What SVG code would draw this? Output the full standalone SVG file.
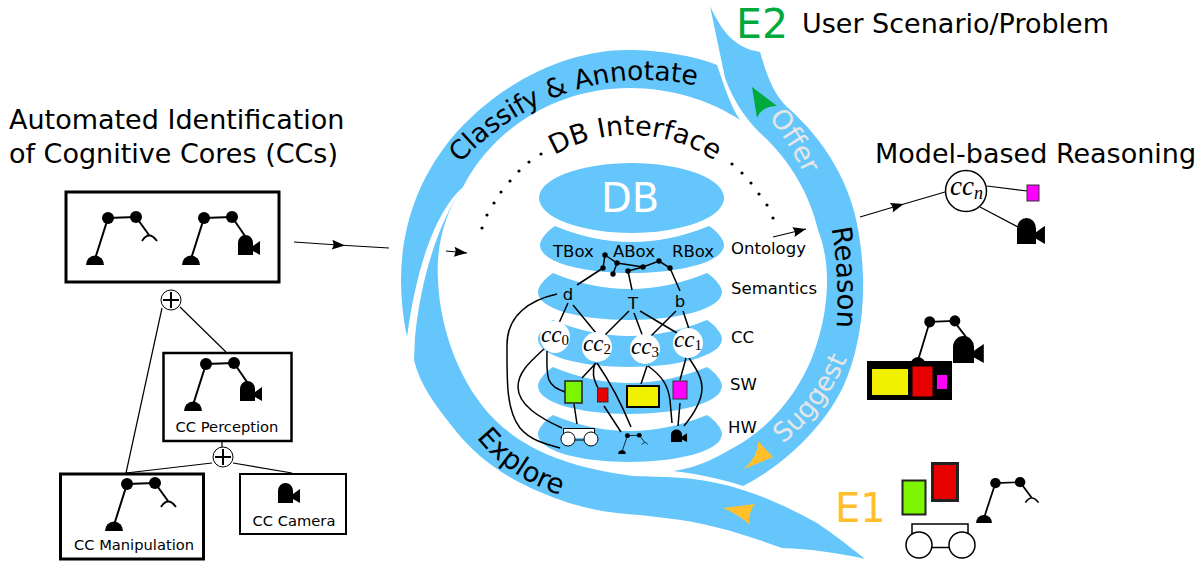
<svg xmlns="http://www.w3.org/2000/svg" xmlns:xlink="http://www.w3.org/1999/xlink" width="1202" height="563" viewBox="0 0 1202 563">
<style>
text{font-family:"DejaVu Sans",sans-serif;fill:#000}
.b{fill:#64c6fb}
.big{font-size:27px}
.lay{font-size:16.500px}
.cap{font-size:14.700px;text-anchor:middle}
.m{font-family:"Liberation Serif",serif;font-style:italic;font-size:23px}
.s{font-style:normal;font-size:15px}
.l{fill:none;stroke:#000;stroke-width:1.5}
.t{fill:none;stroke:#000;stroke-width:1.2}
.box{fill:#fff;stroke:#000}
.w{fill:#fff}
</style>
<defs>
<marker id="h" markerUnits="userSpaceOnUse" markerWidth="20" markerHeight="14" refX="0" refY="0" viewBox="-10 -7 20 14" orient="auto"><path d="M7,0 L-6,5 Q-3,0 -6,-5 Z" fill="#000"/></marker>
<marker id="e" markerUnits="userSpaceOnUse" markerWidth="20" markerHeight="14" refX="0" refY="0" viewBox="-14 -7 20 14" orient="auto"><path d="M0,0 L-13,5 Q-10,0 -13,-5 Z" fill="#000"/></marker>
<g id="armBase"><path d="M-9,0 A9,9.500 0 0 1 9,0 Z"/><path d="M0,-6 L13,-47 L41,-48" fill="none" stroke="#000" stroke-width="2"/><circle cx="13" cy="-47" r="6"/><circle cx="41" cy="-48" r="6"/></g>
<g id="armGrip"><use xlink:href="#armBase" href="#armBase"/><path d="M41,-48 L54,-30" fill="none" stroke="#000" stroke-width="2"/><path d="M47,-24 Q54,-35 62,-24" fill="none" stroke="#000" stroke-width="1.800"/></g>
<g id="cam"><path d="M0,0 V-12 A7.500,8 0 0 1 15,-12 V0 Z M15,-4 L22,0 V-14 L15,-9 Z"/></g>
<path id="pClass" d="M445,182 C490,120 570,80 640,80 C665,80 690,82 720,92"/>
<path id="pDb" d="M500,210 A150,150 0 0 1 760,210"/>
<path id="pReason" d="M831,226 Q841,280 836,336"/>
<path id="pOffer" d="M767,116 Q792,145 810,188"/>
<path id="pSuggest" d="M781,445 Q826,410 850,352"/>
<path id="pExplore" d="M475,436 Q510,480 564,496"/>
</defs>

<g id="ribbons">
<path class="b" d="M407,337 C393,270 402,200 450,140 C500,80 570,50 627,50 C660,50 695,56 717,65 C724,85 730,105 740,120 C710,100 670,88 630,88 C560,88 495,125 463,187 C440,207 418,255 407,337 Z"/>
<path class="b" d="M463,187 C443,215 436,250 438,280 C440,330 460,385 495,420 C525,450 570,468 633,476 C665,477 680,477 700,480 C740,486 775,500 817,523 C835,535 850,547 865,559 C840,553 810,549 782,548 C760,540 740,533 715,527 C685,519 650,516 617,513 C590,510 565,503 540,492 C500,475 475,455 455,430 C435,405 420,385 414,360 L415,337 C421,275 440,220 463,187 Z"/>
<path class="b" d="M710,6 C722,32 735,48 760,52 C768,80 775,95 787,107 C825,140 852,185 859,235 C868,290 862,345 843,387 C825,425 785,465 743,486 C725,480 700,474 673,471 C700,467 715,458 733,448 C775,425 805,385 818,340 C830,300 830,260 818,230 C810,195 790,160 760,133 C745,118 733,100 725,78 Z"/>
</g>
<g id="arrowheads-color">
<path d="M752,87 L777,106 Q762,106 757,118 Z" fill="#00a93c"/>
<path d="M758,441 L773,457 L744,469 Q759,455 758,441 Z" fill="#ffc02b"/>
<path d="M723,508 L755,504 Q747,514 750,525 Q738,514 723,508 Z" fill="#ffc02b"/>
</g>

<g id="db">
<ellipse class="b" cx="631.500" cy="198" rx="92.500" ry="35"/>
<text x="630" y="212" font-size="40" text-anchor="middle" style="fill:#fff">DB</text>
</g>
<g id="layers">
<path id="ontology" class="b" d="M555,226 Q631,258 709,226 C718,232 724,240 724,245 C724,262 680,273 631,273 C582,273 540,262 540,245 C540,240 546,232 555,226 Z"/>
<path id="semantics" class="b" transform="translate(-2,47)" d="M555,226 Q631,258 709,226 C718,232 724,240 724,245 C724,262 680,273 631,273 C582,273 540,262 540,245 C540,240 546,232 555,226 Z"/>
<path id="cc" class="b" transform="translate(-2,94)" d="M555,226 Q631,258 709,226 C718,232 724,240 724,245 C724,262 680,273 631,273 C582,273 540,262 540,245 C540,240 546,232 555,226 Z"/>
<path id="sw" class="b" transform="translate(-2,141)" d="M555,226 Q631,258 709,226 C718,232 724,240 724,245 C724,262 680,273 631,273 C582,273 540,262 540,245 C540,240 546,232 555,226 Z"/>
<path id="hw" class="b" transform="translate(-2,189)" d="M555,226 Q631,258 709,226 C718,232 724,240 724,245 C724,262 680,273 631,273 C582,273 540,262 540,245 C540,240 546,232 555,226 Z"/>
</g>

<g id="ribbon-labels">
<text style="font-size:26.500px"><textPath href="#pClass" xlink:href="#pClass" startOffset="24">Classify &amp; Annotate</textPath></text>
<text style="font-size:27px"><textPath href="#pDb" xlink:href="#pDb" startOffset="78">DB Interface</textPath></text>
<text style="font-size:27.500px"><textPath href="#pReason" xlink:href="#pReason" startOffset="2">Reason</textPath></text>
<text style="fill:#e6e6e6;font-size:27px"><textPath href="#pOffer" xlink:href="#pOffer" startOffset="2">Offer</textPath></text>
<text style="fill:#e6e6e6;font-size:26.500px"><textPath href="#pSuggest" xlink:href="#pSuggest" startOffset="2">Suggest</textPath></text>
<text style="font-size:27.500px"><textPath href="#pExplore" xlink:href="#pExplore" startOffset="2">Explore</textPath></text>
</g>
<g id="db-dots">
<circle cx="482" cy="228" r="1.600"/><circle cx="487" cy="215" r="1.600"/><circle cx="494" cy="203" r="1.600"/><circle cx="501" cy="192" r="1.600"/><circle cx="510" cy="181" r="1.600"/><circle cx="519" cy="171" r="1.600"/><circle cx="529" cy="162" r="1.600"/><circle cx="541" cy="154" r="1.600"/>
<circle cx="732" cy="164" r="1.600"/><circle cx="742" cy="173" r="1.600"/><circle cx="751" cy="183" r="1.600"/><circle cx="759" cy="194" r="1.600"/><circle cx="767" cy="205" r="1.600"/><circle cx="773" cy="218" r="1.600"/>
</g>

<g id="texts">
<text x="9" y="129" class="big">Automated Identification</text>
<text x="9" y="163" class="big">of Cognitive Cores (CCs)</text>
<text x="802" y="33" class="big">User Scenario/Problem</text>
<text x="875" y="163" class="big">Model-based Reasoning</text>
<text x="736" y="38" font-size="41" style="fill:#00a93c">E2</text>
<text x="835" y="522" font-size="40" style="fill:#ffc02b">E1</text>
<text class="lay" x="553" y="257">TBox</text><text class="lay" x="613" y="257">ABox</text><text class="lay" x="672" y="257">RBox</text>
<text class="lay" x="731" y="254">Ontology</text><text class="lay" x="731" y="294">Semantics</text><text class="lay" x="731" y="343">CC</text><text class="lay" x="730" y="390">SW</text><text class="lay" x="728" y="433">HW</text>
<text class="lay" x="568" y="300" text-anchor="middle">d</text><text class="lay" x="633" y="309" text-anchor="middle">T</text><text class="lay" x="680" y="307" text-anchor="middle">b</text>
</g>

<g id="connectors">
<path class="t" d="M294,242 L338,245 L389,248" marker-mid="url(#h)"/>
<path class="t" d="M446,251 L467,253" marker-end="url(#e)"/>
<path class="t" d="M773,237 L806,229" marker-end="url(#e)"/>
<path class="t" d="M860,217 L897,206 L945,192" marker-mid="url(#h)"/>
<path class="t" d="M162,308 L126,473 M180,307 L226,352 M222,441 V447 M212,463 L126,473 M233,463 L292,473"/>
<path class="t" d="M987,186 L1027,191 M980,207 L1020,228"/>
<path class="l" d="M605,255 L603,268 M605,255 L617,263 L643,267 L659,261 L670,268 M617,263 L613,274 M628,271 L643,267 M603,268 L577,285 M628,271 L632,290 M670,268 L680,291"/>
<path class="l" d="M568,303 L559,323 M573,305 L596,333 M629,311 L605,335 M634,313 L643,337 M640,311 L677,333 M676,311 L650,337 M683,311 L689,329"/>
<path class="l" d="M557,294 C530,300 507,315 507,345 C507,380 506,410 520,428 C530,440 545,444 560,448"/>
<path class="l" d="M544,349 C530,362 518,372 518,387 C518,405 540,418 562,428"/>
<path class="l" d="M547,351 C547,362 546,372 549,380 C552,387 558,389 565,392"/>
<path class="l" d="M596,363 L582,378 M595,363 C592,372 593,378 598,388 M597,363 C612,385 622,405 631,427 M604,406 L621,432"/>
<path class="l" d="M647,366 L641,384 M648,366 C662,376 668,385 670,400 L672,423"/>
<path class="l" d="M686,358 L680,380 M689,358 C697,370 702,378 702,388 C702,402 693,415 684,426 M680,403 L678,426 M574,404 L577,424"/>
</g>

<g id="cc0"><ellipse class="w" cx="555" cy="337" rx="15" ry="16"/><text class="m" x="541" y="342">cc<tspan class="s" dy="3">0</tspan></text></g>
<g id="cc2"><circle class="w" cx="597" cy="347" r="15"/><text class="m" x="583" y="351">cc<tspan class="s" dy="3">2</tspan></text></g>
<g id="cc3"><circle class="w" cx="645" cy="349" r="15"/><text class="m" x="631" y="354">cc<tspan class="s" dy="3">3</tspan></text></g>
<g id="cc1"><circle class="w" cx="688" cy="343" r="15"/><text class="m" x="674" y="347">cc<tspan class="s" dy="3">1</tspan></text></g>

<g id="sw-nodes">
<rect x="565" y="381" width="17" height="22" fill="#7ef500" stroke="#222" stroke-width="1.500"/>
<rect x="597.500" y="388" width="10.500" height="14" fill="#e60000" stroke="#333" stroke-width="1"/>
<rect x="627" y="386" width="32" height="21" fill="#f0f000" stroke="#000" stroke-width="2"/>
<rect x="673" y="381" width="14" height="18" fill="#ff00ff" stroke="#333" stroke-width="1"/>
</g>
<g id="hw-nodes">
<g id="hw-chassis"><path class="box" d="M563.500,438 V428.500 H594.500 V438 M568,440 H591" stroke-width="1"/><circle class="box" cx="568" cy="439" r="7" stroke-width="1"/><circle class="box" cx="591" cy="439" r="7" stroke-width="1"/></g>
<use id="hw-arm" xlink:href="#armGrip" href="#armGrip" transform="translate(622,454) scale(0.42,0.39)"/>
<use id="hw-cam" xlink:href="#cam" href="#cam" transform="translate(671,442) scale(0.73,0.62)"/>
</g>

<g id="net-nodes">
<circle cx="605" cy="255" r="2.700"/><circle cx="603" cy="268" r="2.700"/><circle cx="617" cy="263" r="2.700"/><circle cx="613" cy="274" r="2.700"/><circle cx="628" cy="271" r="2.700"/><circle cx="643" cy="267" r="2.700"/><circle cx="659" cy="261" r="2.700"/><circle cx="670" cy="268" r="2.700"/>
</g>

<g id="cc-top">
<rect class="box" x="66" y="192" width="213" height="90" stroke-width="3"/>
<use xlink:href="#armGrip" href="#armGrip" transform="translate(95,265)"/>
<use xlink:href="#armBase" href="#armBase" transform="translate(191,265)"/>
<path d="M232,217 L245,236" stroke="#000" stroke-width="2"/>
<use xlink:href="#cam" href="#cam" transform="translate(238,255)"/>
</g>
<g id="plus1"><circle cx="171" cy="300" r="10" fill="#fff" stroke="#000"/><path d="M163,300 H179 M171,292 V308" stroke="#000" stroke-width="2"/></g>
<g id="cc-perception">
<rect class="box" x="163.500" y="353" width="128" height="88" stroke-width="2.500"/>
<use xlink:href="#armBase" href="#armBase" transform="translate(193,411)"/>
<path d="M234,363 L247,382" stroke="#000" stroke-width="2"/>
<use xlink:href="#cam" href="#cam" transform="translate(240,401)"/>
<text class="cap" x="227" y="432">CC Perception</text>
</g>
<g id="plus2"><circle cx="223" cy="457" r="10" fill="#fff" stroke="#000"/><path d="M215,457 H231 M223,449 V465" stroke="#000" stroke-width="2"/></g>
<g id="cc-manipulation">
<rect class="box" x="60.500" y="474" width="143" height="85" stroke-width="3"/>
<use xlink:href="#armGrip" href="#armGrip" transform="translate(114,531)"/>
<text class="cap" x="134" y="550">CC Manipulation</text>
</g>
<g id="cc-camera">
<rect class="box" x="240" y="474" width="106" height="60" stroke-width="2"/>
<use xlink:href="#cam" href="#cam" transform="translate(278,503)"/>
<text class="cap" x="294" y="526">CC Camera</text>
</g>

<g id="ccn">
<circle cx="966" cy="191" r="20.500" fill="#fff" stroke="#000" stroke-width="1.500"/>
<text class="m" style="font-size:27px" x="950" y="195">cc<tspan dy="4" style="font-size:18px">n</tspan></text>
<rect x="1027" y="185" width="12" height="16" fill="#ff00ff" stroke="#333" stroke-width="1"/>
<use xlink:href="#cam" href="#cam" transform="translate(1017,244) scale(1.270,1.300)"/>
</g>

<g id="result-e2">
<use xlink:href="#armBase" href="#armBase" transform="translate(918,366) scale(0.9,0.94)"/>
<path d="M953,320 L966,337" stroke="#000" stroke-width="2"/>
<use xlink:href="#cam" href="#cam" transform="translate(953,363) scale(1.400,1.350)"/>
<rect x="867" y="361" width="85" height="39"/>
<rect x="872" y="369" width="36" height="26" fill="#f0f000"/>
<rect x="912.500" y="366.500" width="20" height="30" fill="#e60000"/>
<rect x="937" y="375" width="10" height="14" fill="#ff00ff"/>
</g>

<g id="result-e1">
<rect x="902.500" y="480.500" width="23" height="34" fill="#7ef500" stroke="#222" stroke-width="2"/>
<rect x="932.500" y="463.500" width="25" height="37" fill="#e60000" stroke="#222" stroke-width="3"/>
<path class="box" d="M912,537 V524 H968 V537 M925,547.500 H956" stroke-width="1.500"/>
<circle class="box" cx="919" cy="545" r="13" stroke-width="1.500"/>
<circle class="box" cx="962" cy="545" r="13" stroke-width="1.500"/>
<use xlink:href="#armGrip" href="#armGrip" transform="translate(984,523) scale(0.88,0.85)"/>
</g>
</svg>
